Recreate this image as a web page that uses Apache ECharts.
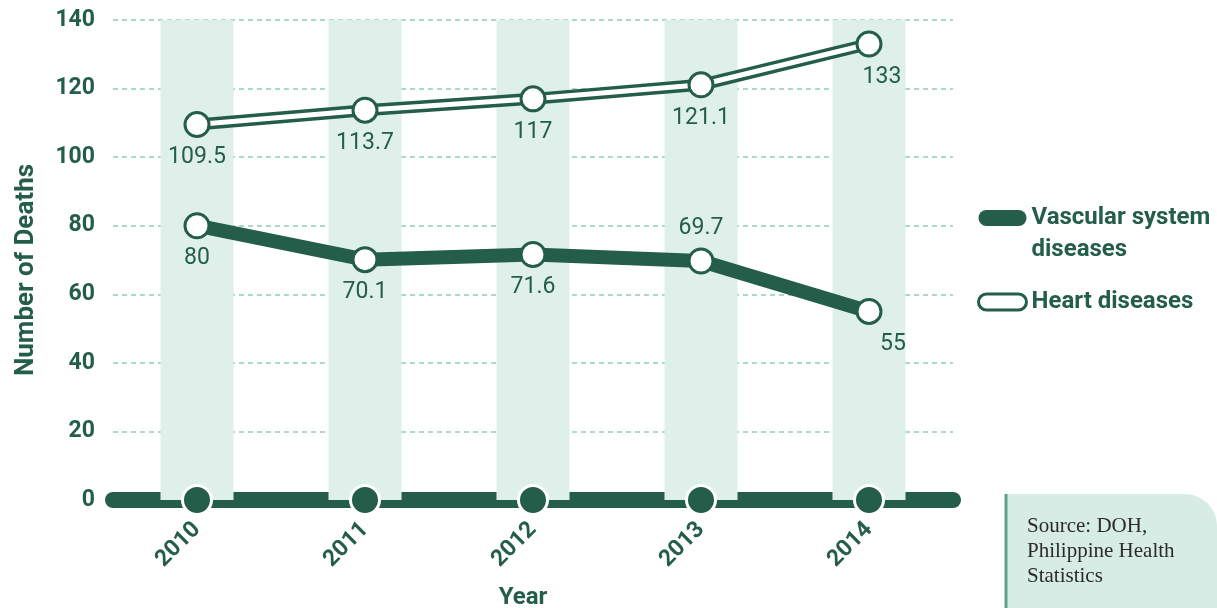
<!DOCTYPE html>
<html>
<head>
<meta charset="utf-8">
<script src="https://cdn.jsdelivr.net/npm/echarts@6/dist/echarts.min.js"></script>
<style>
  html, body { margin: 0; padding: 0; background: #ffffff; }
  #chart { width: 1217px; height: 608px; }
</style>
</head>
<body>
<div id="chart"></div>
<script>
// data
var years = ['2010', '2011', '2012', '2013', '2014'];
var vascular = [80, 70.1, 71.6, 69.7, 55];
var heart = [109.5, 113.7, 117, 121.1, 133];
var yMin = 0, yMax = 140, yStep = 20;

var dark = '#245e4a';
var band = '#dff0eb';
var boldFont = 'Roboto';

var vascLabelPos = ['bottom', 'bottom', 'bottom', 'top', 'bottom'];
var pill = 'path://M8,0 H40 A8,8 0 0 1 40,16 H8 A8,8 0 0 1 8,0 Z';

var myChart = echarts.init(document.getElementById('chart'));

myChart.setOption({
    animation: false,
    grid: { left: 113, right: 264, top: 20, bottom: 108, outerBoundsMode: 'none', containLabel: false },
    legend: {
        left: 977,
        top: 170,
        padding: 0,
        orient: 'vertical',
        itemWidth: 48,
        itemHeight: 16,
        itemGap: 20,
        // blank first line keeps the pill level with the first text line
        formatter: function (name) {
            return name === 'Vascular system diseases' ? '\nVascular system\ndiseases' : name;
        },
        textStyle: { color: dark, fontFamily: boldFont, fontWeight: 'bold', fontSize: 24, lineHeight: 32 },
        data: [
            { name: 'Vascular system diseases', icon: pill,
              itemStyle: { color: dark, borderWidth: 0 } },
            { name: 'Heart diseases', icon: pill,
              itemStyle: { color: '#ffffff', borderColor: dark, borderWidth: 3 } }
        ]
    },
    xAxis: {
        type: 'category',
        data: years,
        boundaryGap: true,
        name: 'Year',
        nameLocation: 'middle',
        nameGap: 86,
        nameTextStyle: { color: dark, fontFamily: boldFont, fontWeight: 'bold', fontSize: 24, padding: [0, 20, 0, 0] },
        axisLine: { lineStyle: { color: dark, width: 16, cap: 'round' } },
        axisTick: { show: false },
        axisLabel: { rotate: 45, margin: 26, color: dark, fontFamily: boldFont, fontWeight: 'bold', fontSize: 23 }
    },
    yAxis: {
        type: 'value',
        min: yMin,
        max: yMax,
        interval: yStep,
        name: 'Number of Deaths',
        nameLocation: 'middle',
        nameGap: 74,
        nameTextStyle: { color: dark, fontFamily: boldFont, fontWeight: 'bold', fontSize: 26, padding: [0, 20, 0, 0] },
        axisLine: { show: false },
        axisTick: { show: false },
        axisLabel: { margin: 18, color: dark, fontFamily: boldFont, fontWeight: 'bold', fontSize: 23 },
        splitLine: { lineStyle: { color: '#8fd0b8', type: [5, 4], width: 1.5 } }
    },
    series: [
        {
            name: 'band',
            type: 'bar',
            silent: true,
            barWidth: 73,
            itemStyle: { color: band },
            data: years.map(function () { return yMax; }),
            z: 0
        },
        {
            name: 'heart-outline',
            type: 'line',
            silent: true,
            symbol: 'none',
            lineStyle: { color: dark, width: 12 },
            data: heart,
            z: 3
        },
        {
            name: 'Heart diseases',
            type: 'line',
            symbol: 'circle',
            symbolSize: 24,
            lineStyle: { color: '#ffffff', width: 5 },
            itemStyle: { color: '#ffffff', borderColor: dark, borderWidth: 3 },
            label: {
                show: true, position: 'bottom', distance: 8,
                color: dark, fontFamily: 'Roboto', fontSize: 23
            },
            data: heart.map(function (v, i) {
                var d = { value: v };
                if (i === heart.length - 1) d.label = { offset: [13, 0] };
                return d;
            }),
            z: 4
        },
        {
            name: 'Vascular system diseases',
            type: 'line',
            symbol: 'circle',
            symbolSize: 24,
            lineStyle: { color: dark, width: 14 },
            itemStyle: { color: '#ffffff', borderColor: dark, borderWidth: 3 },
            label: {
                show: true, distance: 8,
                color: dark, fontFamily: 'Roboto', fontSize: 23
            },
            data: vascular.map(function (v, i) {
                var d = { value: v, label: { position: vascLabelPos[i] } };
                if (i === vascular.length - 1) d.label.offset = [24, 0];
                return d;
            }),
            z: 4
        },
        {
            name: 'axis-dots',
            type: 'scatter',
            silent: true,
            clip: false,
            symbolSize: 29,
            itemStyle: { color: dark, opacity: 1, borderColor: '#ffffff', borderWidth: 3 },
            data: years.map(function () { return yMin; }),
            z: 6
        }
    ],
    graphic: [
        {
            type: 'rect',
            shape: { x: 1006, y: 494, width: 211, height: 114, r: [0, 32, 0, 0] },
            style: { fill: '#d7ece5' },
            silent: true
        },
        {
            type: 'line',
            shape: { x1: 1006, y1: 494, x2: 1006, y2: 608 },
            style: { stroke: '#5fa185', lineWidth: 3 },
            silent: true
        },
        {
            type: 'text',
            left: 1027,
            top: 514,
            style: {
                text: 'Source: DOH,\nPhilippine Health\nStatistics',
                fill: '#2b2b2b',
                font: '21px "Liberation Serif"',
                lineHeight: 25
            },
            silent: true
        }
    ]
});
</script>
</body>
</html>
